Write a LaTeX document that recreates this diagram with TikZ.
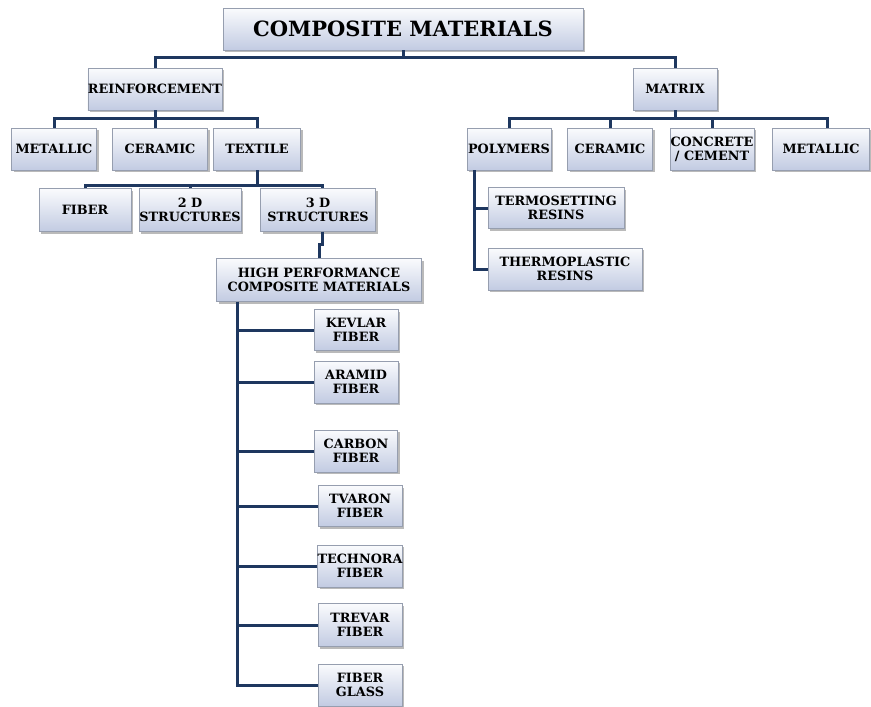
\documentclass[tikz,border=0pt]{standalone}
\usepackage{fontspec}
\setmainfont{DejaVu Serif}
\usepackage{tikz}
\usetikzlibrary{shadows, positioning}
\definecolor{boxTop}{RGB}{250, 251, 253}
\definecolor{boxBot}{RGB}{194, 203, 226}
\definecolor{boxEdge}{RGB}{150, 158, 175}
\definecolor{linkBlue}{RGB}{30, 55, 95}

\begin{document}
\begin{tikzpicture}[x=1pt, y=-1pt,
    box/.style={rectangle, draw=boxEdge, top color=boxTop, bottom color=boxBot, drop shadow={shadow xshift=2pt, shadow yshift=-2pt, fill=black!60, opacity=.45}, minimum width=84pt, minimum height=42pt, inner sep=0pt, align=center, font=\fontsize{12.8}{14}\selectfont\bfseries},
    link/.style={draw=linkBlue, line width=3pt}]

    \useasboundingbox (0,0) rectangle (871,707);

    % reinforcement side
    \node[box, minimum width=360pt, font=\fontsize{21}{24}\selectfont\bfseries] (comp) at (403,29) {COMPOSITE MATERIALS};
    \node[box, minimum width=134pt] (reinf) at (155,89) {REINFORCEMENT};
    \node[box, minimum width=85pt] (metalR) at (54,149) {METALLIC};
    \node[box, minimum width=95pt] (ceramR) at (160,149) {CERAMIC};
    \node[box, minimum width=87pt] (textile) at (257,149) {TEXTILE};
    \node[box, minimum width=92pt, minimum height=43pt] (fiber) at (85,210) {FIBER};
    \node[box, minimum width=102pt, minimum height=43pt] (twoD) at (190,210) {2 D\\STRUCTURES};
    \node[box, minimum width=115pt, minimum height=43pt] (threeD) at (318,210) {3 D\\STRUCTURES};
    \node[box, minimum width=205pt, minimum height=43pt] (hpc) at (319,280) {HIGH PERFORMANCE\\COMPOSITE MATERIALS};
    \node[box, minimum height=41pt] (kevlar) at (356,330) {KEVLAR\\FIBER};
    \node[box] (aramid) at (356,382) {ARAMID\\FIBER};
    \node[box, minimum width=83pt] (carbon) at (356,451) {CARBON\\FIBER};
    \node[box, minimum height=41pt] (tvaron) at (360,506) {TVARON\\FIBER};
    \node[box] (technora) at (360,566) {TECHNORA\\FIBER};
    \node[box, minimum height=43pt] (trevar) at (360,625) {TREVAR\\FIBER};
    \node[box] (fglass) at (360,685) {FIBER\\GLASS};

    % matrix side
    \node[box] (matrix) at (675,89) {MATRIX};
    \node[box] (poly) at (509,149) {POLYMERS};
    \node[box, minimum width=85pt] (ceramM) at (610,149) {CERAMIC};
    \node[box] (concrete) at (712,149) {CONCRETE\\/ CEMENT};
    \node[box, minimum width=97pt] (metalM) at (821,149) {METALLIC};
    \node[box, minimum width=136pt, minimum height=41pt] (termo) at (556,208) {TERMOSETTING\\RESINS};
    \node[box, minimum width=154pt] (thermo) at (565,269) {THERMOPLASTIC\\RESINS};

    % connectors
    \draw[link] (comp.south) -- ++(0,8);
    \draw[link] (reinf.north) -- ++(0,-10) -| (matrix.north);
    \draw[link] (metalR.north) -- ++(0,-9) -| (textile.north);
    \draw[link] (reinf.south) -- (reinf.south |- ceramR.north);
    \draw[link] (textile.south) -- ++(0,16);
    \draw[link] (fiber.north) -- ++(0,-3) -| ([xshift=4pt]threeD.north);
    \draw[link] (twoD.north) -- ++(0,-3);
    \draw[link] ([xshift=4pt]threeD.south) -- ++(0,13) -| (hpc.north);
    \coordinate (hpcStem) at ([xshift=21pt]hpc.south west);
    \draw[link] (hpcStem) |- (fglass.west);
    \foreach \f in {kevlar, aramid, carbon, tvaron, technora, trevar}
        \draw[link] (\f.west) -- (\f.west -| hpcStem);

    \draw[link] (matrix.south) -- ++(0,9);
    \draw[link] (poly.north) -- ++(0,-9) -| ([xshift=6pt]metalM.north);
    \draw[link] (ceramM.north) -- ++(0,-9);
    \draw[link] (concrete.north) -- ++(0,-9);
    \coordinate (polyStem) at ([xshift=8pt]poly.south west);
    \draw[link] (polyStem) |- (thermo.west);
    \draw[link] (termo.west) -- (termo.west -| polyStem);

\end{tikzpicture}
\end{document}
